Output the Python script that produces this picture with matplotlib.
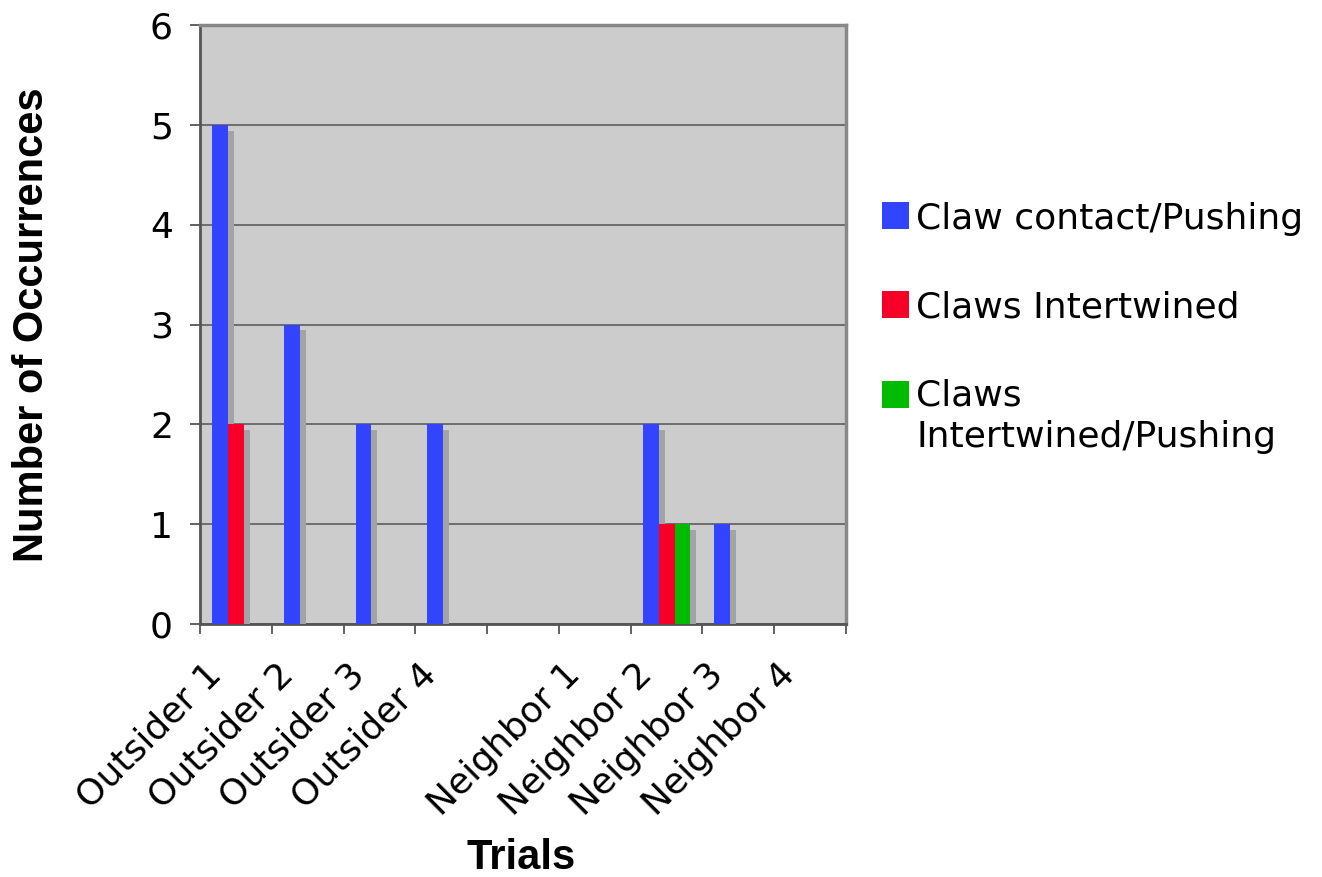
import matplotlib
matplotlib.use("Agg")
import matplotlib.pyplot as plt
import matplotlib.patheffects as pe
import matplotlib.transforms as mtransforms
from matplotlib.patches import Rectangle
import numpy as np

categories = ["Outsider 1", "Outsider 2", "Outsider 3", "Outsider 4", "",
              "Neighbor 1", "Neighbor 2", "Neighbor 3", "Neighbor 4"]
series_names = ["Claw contact/Pushing", "Claws Intertwined", "Claws\nIntertwined/Pushing"]
claw_contact = [5, 3, 2, 2, 0, 0, 2, 1, 0]
claws_intertwined = [2, 0, 0, 0, 0, 0, 1, 0, 0]
claws_intertwined_pushing = [0, 0, 0, 0, 0, 0, 1, 0, 0]
colors = ["#3344ff", "#f70028", "#00bb00"]
yticks = [0, 1, 2, 3, 4, 5, 6]

W, H = 1322, 877
fig = plt.figure(figsize=(W/100, H/100), dpi=100)
ax = fig.add_axes([200/W, 1-624/H, (846-200)/W, (624-25)/H])
ax.set_facecolor("#cccccc")

x = np.arange(len(categories))
w = 1/4.5
data = [claw_contact, claws_intertwined, claws_intertwined_pushing]
shadow = [pe.SimplePatchShadow(offset=(4.3, -4.3), shadow_rgbFace="#a3a3a3", alpha=1.0), pe.Normal()]
for i, (vals, col, name) in enumerate(zip(data, colors, series_names)):
    bars = ax.bar(x - w + i*w, vals, width=w, color=col, label=name, zorder=3, linewidth=0)
    for b in bars:
        b.set_path_effects(shadow)

ax.set_xlim(-0.5, len(categories)-0.5)
ax.set_ylim(0, 6)
ax.set_yticks(yticks)
ax.set_yticklabels([str(t) for t in yticks], fontsize=26, family="DejaVu Sans")
ax.yaxis.grid(True, color="#666666", linewidth=1.3, zorder=1)
ax.set_axisbelow(True)

ax.set_xticks(x)
ax.set_xticks(np.arange(len(categories)+1) - 0.5, minor=True)
ax.tick_params(axis="x", which="major", length=0, pad=24)
ax.tick_params(axis="x", which="minor", length=7.5, width=1.3, color="#555555")
ax.tick_params(axis="y", length=7.5, width=1.3, color="#555555", pad=12)
ax.set_xticklabels(categories, rotation=45, ha="right", va="top", fontsize=26, family="DejaVu Sans")
off = mtransforms.ScaledTranslation(-0.08, 0, fig.dpi_scale_trans)
for lab in ax.get_xticklabels():
    lab.set_transform(lab.get_transform() + off)

for s in ["left", "bottom"]:
    ax.spines[s].set_color("#555555")
    ax.spines[s].set_linewidth(2)
for s in ["top", "right"]:
    ax.spines[s].set_color("#888888")
    ax.spines[s].set_linewidth(2.5)

ax.set_ylabel("Number of Occurrences", fontsize=30, fontweight="bold", family="Liberation Sans")
ax.set_xlabel("Trials", fontsize=30, fontweight="bold", family="Liberation Sans")
ax.yaxis.set_label_coords(-(200-52)/646, 0.5)
ax.xaxis.set_label_coords((521-200)/646, -(838-624)/599)

# legend (drawn manually to match the reference layout)
sq_x = 882
sq_size = 27
first_baselines = [229, 318, 408]
line_gap = 39
for name, col, bl in zip(series_names, colors, first_baselines):
    fig.patches.append(Rectangle((sq_x/W, 1-bl/H), sq_size/W, sq_size/H,
                                 transform=fig.transFigure, facecolor=col,
                                 edgecolor="none", figure=fig))
    n_extra = name.count("\n")
    fig.text(916/W, 1-(bl + n_extra*line_gap)/H, name, ha="left", va="baseline",
             fontsize=26, family="DejaVu Sans", linespacing=1.27)

fig.savefig("out.png", dpi=100)
